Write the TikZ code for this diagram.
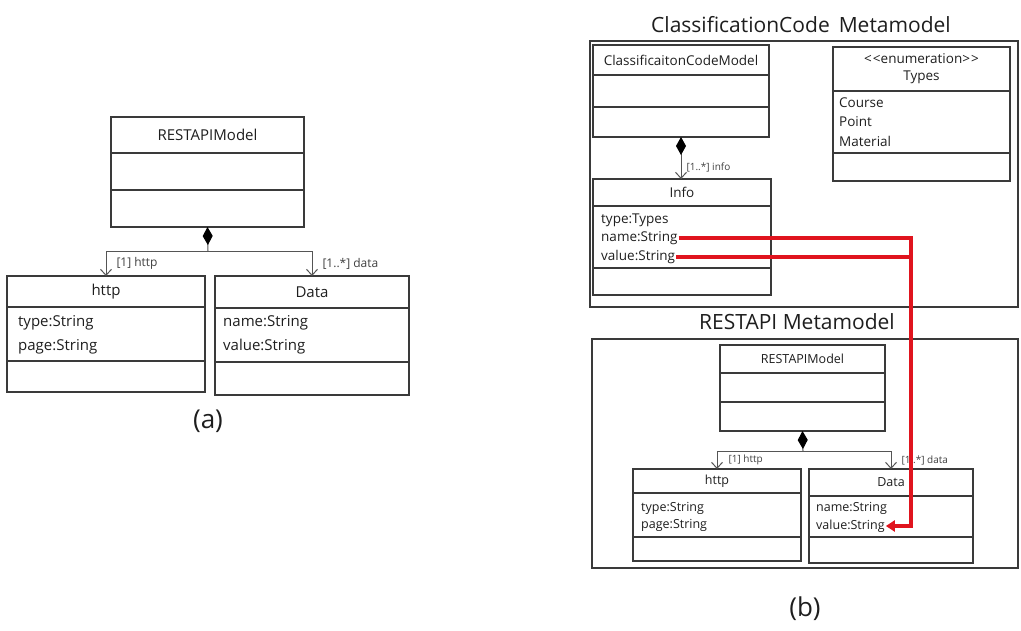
\documentclass[tikz,border=0pt]{standalone}
\usepackage{fontspec}
\setmainfont{Open Sans}
\usetikzlibrary{arrows.meta}

\definecolor{boxline}{HTML}{3A3A3A}
\definecolor{linkgray}{HTML}{555555}
\definecolor{ink}{HTML}{1E1E1E}
\definecolor{mapred}{HTML}{E0141E}

% UML class: name, x, y (top left), width, header/attribute/operation heights, header text
\newcommand\umlclass[8]{%
  \node[compart, minimum width=#4pt, minimum height=#5pt] (#1-h) at (#2,#3) {#8};
  \node[compart, minimum width=#4pt, minimum height=#6pt] (#1-a) at (#1-h.south west) {};
  \node[compart, minimum width=#4pt, minimum height=#7pt] (#1-o) at (#1-a.south west) {};
}

\begin{document}
\begin{tikzpicture}[x=1pt, y=-1pt,
  umlfont/.style={font=\fontsize{15}{18}\selectfont},
  lblfont/.style={font=\fontsize{10}{12}\selectfont},
  compart/.style={draw=boxline, line width=1.4pt, rectangle, inner sep=0pt,
    outer sep=0pt, anchor=north west, align=center, text=ink, umlfont},
  attr/.style={anchor=west, inner sep=1pt, text=ink, umlfont},
  rolelbl/.style={lblfont, text=ink!85, inner sep=1pt, anchor=west},
  assoc/.style={draw=linkgray, line width=1pt, -{Straight Barb[length=6pt,width=11pt]}},
  compos/.style={draw=linkgray, line width=1pt, -{Diamond[length=18pt,width=10pt,color=black]}},
  title/.style={font=\fontsize{21}{25}\selectfont, text=ink, inner sep=0pt},
  caption/.style={font=\fontsize{26}{30}\selectfont, text=ink, inner sep=0pt},
  frame/.style={draw=boxline, line width=1.4pt},
  mapping/.style={draw=mapred, line width=3.5pt},
]
\useasboundingbox (0,0) rectangle (1021,630);

% ---------------- (a) RESTAPI model ----------------
\begin{scope}[umlfont/.style={font=\fontsize{15}{18}\selectfont},
              lblfont/.style={font=\fontsize{12}{14}\selectfont}]
  \umlclass{restA}{111}{117}{193}{36}{37}{37}{RESTAPIModel}
  \umlclass{httpA}{7}{276}{198}{31}{54}{31}{http}
  \umlclass{dataA}{215}{276}{194}{32}{54}{33}{Data}
  \node[attr] (httpA-type) at (17,323) {type:String};
  \node[attr] (httpA-page) at (17,347) {page:String};
  \node[attr] (dataA-name) at (222,323) {name:String};
  \node[attr] (dataA-value) at (222,347) {value:String};
  \coordinate (jA) at (208,251);
  \draw[compos] (jA) -- (restA-o.south);
  \draw[assoc] (jA) -| (httpA-h.north)
    node[rolelbl, pos=0.75, xshift=9pt] {[1] http};
  \draw[assoc] (jA) -| (dataA-h.north)
    node[rolelbl, pos=0.75, xshift=9pt] {[1..*] data};
\end{scope}
\node[caption] (capA) at (208,421) {(a)};

% ---------------- (b) ClassificationCode metamodel ----------------
\node[title] (titleCC) at (801,25) {ClassificationCode\hspace{9pt}Metamodel};
\node[frame, minimum width=428pt, minimum height=266pt, anchor=north west,
  inner sep=0pt, outer sep=0pt] (frameCC) at (590,41) {};
\begin{scope}[umlfont/.style={font=\fontsize{13.5}{17}\selectfont}]
  \umlclass{ccm}{593}{45}{176}{30}{32}{30}{ClassificaitonCodeModel}
  \umlclass{info}{593}{179}{178}{27}{62}{27}{Info}
  \umlclass{types}{833}{47}{177}{44}{62}{28}{<\kern1pt<enumeration>\kern1pt>\\Types}
  \node[attr] (info-type) at (600,220) {type:Types};
  \node[attr] (info-name) at (600,238) {name:String};
  \node[attr] (info-value) at (600,257) {value:String};
  \node[attr] (types-course) at (838,103) {Course};
  \node[attr] (types-point) at (838,122) {Point};
  \node[attr] (types-material) at (838,141) {Material};
\end{scope}
\draw[compos] (ccm-o.south |- info-h.north) -- (ccm-o.south);
\draw[assoc] (ccm-o.south) ++(0,18) coordinate (ccmStem) -- (ccm-o.south |- info-h.north)
  node[rolelbl, pos=0.5, xshift=4pt] {[1..*] info};

% ---------------- (b) RESTAPI metamodel ----------------
\node[title] (titleRA) at (797,322) {RESTAPI Metamodel};
\node[frame, minimum width=426pt, minimum height=229pt, anchor=north west,
  inner sep=0pt, outer sep=0pt] (frameRA) at (592,339) {};
\begin{scope}[umlfont/.style={font=\fontsize{12.5}{16}\selectfont}]
  \umlclass{restB}{720}{345}{165}{28}{29}{29}{RESTAPIModel}
  \umlclass{httpB}{633}{469}{168}{24}{44}{24}{http}
  \umlclass{dataB}{809}{469}{164}{27}{41}{26}{Data}
  \node[attr] (httpB-type) at (640,508) {type:String};
  \node[attr] (httpB-page) at (640,525) {page:String};
  \node[attr] (dataB-name) at (815,508) {name:String};
  \node[attr] (dataB-value) at (815,526) {value:String};
\end{scope}
\coordinate (jB) at (803,451);
\draw[compos] (jB) -- (restB-o.south);
\draw[assoc] (jB) -| (httpB-h.north)
  node[rolelbl, pos=0.75, xshift=10pt] {[1] http};
\draw[assoc] (jB) -| (dataB-h.north)
  node[rolelbl, pos=0.75, xshift=9pt] {[1..*] data};
\node[caption] (capB) at (805,609) {(b)};

% ---------------- attribute mapping ----------------
\coordinate (bend) at (911,238);
\draw[mapping, -{Triangle[length=9pt,width=11pt]}]
  (info-name.east) -- (bend) |- (dataB-value.east);
\draw[mapping] (info-value.east) -- (info-value.east -| bend);
\end{tikzpicture}
\end{document}
